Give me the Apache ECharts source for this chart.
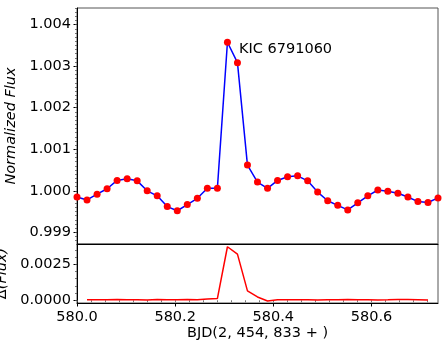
<!DOCTYPE html>
<html>
<head>
<meta charset="utf-8">
<script src="https://cdn.jsdelivr.net/npm/echarts@6/dist/echarts.min.js"></script>
<style>
  html, body { margin: 0; padding: 0; background: #fff; }
  #chart { width: 447px; height: 345px; }
</style>
</head>
<body>
<div id="chart"></div>
<script>
// time stamps (BJD - 2454833)
var bjd = [580.0000, 580.0204, 580.0409, 580.0613, 580.0817, 580.1022, 580.1226, 580.1430,
           580.1634, 580.1839, 580.2043, 580.2247, 580.2452, 580.2656, 580.2860, 580.3065,
           580.3269, 580.3473, 580.3677, 580.3882, 580.4086, 580.4290, 580.4495, 580.4699,
           580.4903, 580.5108, 580.5312, 580.5516, 580.5720, 580.5925, 580.6129, 580.6333,
           580.6538, 580.6742, 580.6946, 580.7151, 580.7355];
// normalized flux, one per time stamp
var flux = [0.99985, 0.99978, 0.99992, 1.00005, 1.00025, 1.00029, 1.00024, 1.00000,
            0.99988, 0.99962, 0.99952, 0.99967, 0.99982, 1.00006, 1.00006, 1.003575,
            1.003084, 1.00062, 1.00021, 1.00006, 1.00025, 1.00034, 1.00036, 1.00024,
            0.99997, 0.99976, 0.99965, 0.99954, 0.99971, 0.99988, 1.00002, 0.99999,
            0.99994, 0.99985, 0.99974, 0.99972, 0.99983];
// delta flux, starts at the 2nd time stamp and stops at the 2nd last
var deltaFlux = [0.00004, 0.00004, 0.00003, 0.00005, 0.00004, 0.00004, 0.00002, 0.00006,
                 0.00003, 0.00003, 0.00005, 0.00003, 0.00008, 0.00012, 0.00371, 0.00320,
                 0.00065, 0.00023, -0.00005, 0.00003, 0.00004, 0.00003, 0.00003, 0.00002,
                 0.00004, 0.00003, 0.00005, 0.00004, 0.00004, 0.00002, 0.00003, 0.00005,
                 0.00005, 0.00004, 0.00002];

var xTicks = [580.0, 580.2, 580.4, 580.6];
var fluxTicks = [0.999, 1.000, 1.001, 1.002, 1.003, 1.004];
var deltaTicks = [0.0000, 0.0025];

var xMin = 580.0, xMax = 580.7355;
var fluxMin = 0.99872, fluxMax = 1.0044;
var deltaMin = -0.00019, deltaMax = 0.0039;

// minor tick positions
var xMinor = [], fluxMinor = [], deltaMinor = [];
for (var i = 0; i * 0.2 / 7 + xMin <= xMax; i++) { xMinor.push(xMin + i * 0.2 / 7); }
for (var i = 0; 0.9987 + i * 0.0001 <= fluxMax; i++) { fluxMinor.push(0.9987 + i * 0.0001); }
for (var i = 0; i * 0.0005 <= deltaMax; i++) { deltaMinor.push(i * 0.0005); }

var fontFam = 'DejaVu Sans';

function minorAxis(gridIndex, min, max, values, pos) {
    return {
        type: 'value', gridIndex: gridIndex, min: min, max: max, position: pos,
        axisLine: { show: false },
        axisTick: { show: true, customValues: values, length: 2, lineStyle: { color: '#555', width: 0.8 } },
        axisLabel: { show: false },
        splitLine: { show: false }
    };
}

var fluxPts = [], deltaPts = [];
for (var i = 0; i < bjd.length; i++) { fluxPts.push([bjd[i], flux[i]]); }
for (var i = 0; i < deltaFlux.length; i++) { deltaPts.push([bjd[i + 1], deltaFlux[i]]); }

var myChart = echarts.init(document.getElementById('chart'), null, { renderer: 'canvas' });

var option = {
    animation: false,
    backgroundColor: '#fff',
    grid: [
        { left: 77, right: 9, top: 8, height: 236, show: true, borderColor: '#555', borderWidth: 1, outerBoundsMode: 'none' },
        { left: 77, right: 9, top: 244, height: 59, show: true, borderColor: '#555', borderWidth: 1, outerBoundsMode: 'none' }
    ],
    xAxis: [
        {
            type: 'value', gridIndex: 0, min: xMin, max: xMax,
            axisLine: { show: true, onZero: false, lineStyle: { color: '#000', width: 1 } },
            axisTick: { show: false }, axisLabel: { show: false }, splitLine: { show: false }
        },
        {
            type: 'value', gridIndex: 1, min: xMin, max: xMax,
            axisLine: { show: true, onZero: false, lineStyle: { color: '#000', width: 1 } },
            axisTick: { show: true, customValues: xTicks, length: 3.5, lineStyle: { color: '#000' } },
            axisLabel: {
                customValues: xTicks, margin: 7, fontFamily: fontFam, fontSize: 14.5, color: '#000',
                formatter: function (v) { return v.toFixed(1); }
            },
            splitLine: { show: false },
            name: 'BJD(2, 454, 833 + )', nameLocation: 'middle', nameGap: 21,
            nameTextStyle: { fontFamily: fontFam, fontSize: 14.5, color: '#000' }
        },
        minorAxis(1, xMin, xMax, xMinor, 'bottom')
    ],
    yAxis: [
        {
            type: 'value', gridIndex: 0, min: fluxMin, max: fluxMax,
            axisLine: { show: true, onZero: false, lineStyle: { color: '#000', width: 1 } },
            axisTick: { show: true, customValues: fluxTicks, length: 3.5, lineStyle: { color: '#000' } },
            axisLabel: {
                customValues: fluxTicks, margin: 6, fontFamily: fontFam, fontSize: 14.5, color: '#000',
                formatter: function (v) { return v.toFixed(3); }
            },
            splitLine: { show: false },
            name: 'Normalized Flux', nameLocation: 'middle', nameGap: 51,
            nameTextStyle: { fontFamily: fontFam, fontSize: 14.5, fontStyle: 'italic', color: '#000' }
        },
        minorAxis(0, fluxMin, fluxMax, fluxMinor, 'left'),
        {
            type: 'value', gridIndex: 1, min: deltaMin, max: deltaMax,
            axisLine: { show: true, onZero: false, lineStyle: { color: '#000', width: 1 } },
            axisTick: { show: true, customValues: deltaTicks, length: 3.5, lineStyle: { color: '#000' } },
            axisLabel: {
                customValues: deltaTicks, margin: 6, fontFamily: fontFam, fontSize: 14.5, color: '#000',
                formatter: function (v) { return v.toFixed(4); }
            },
            splitLine: { show: false },
            name: '{u|Δ}{i|(Flux)}', nameLocation: 'middle', nameGap: 56,
            nameTextStyle: {
                color: '#000',
                rich: {
                    u: { fontFamily: fontFam, fontSize: 14.5, color: '#000' },
                    i: { fontFamily: fontFam, fontSize: 14.5, fontStyle: 'italic', color: '#000' }
                }
            }
        },
        minorAxis(1, deltaMin, deltaMax, deltaMinor, 'left')
    ],
    graphic: [
        {
            type: 'text', left: 239, top: 42, z: 100,
            style: { text: 'KIC 6791060', fill: '#000', font: '14.5px "DejaVu Sans"' }
        }
    ],
    series: [
        {
            name: 'flux', type: 'line', xAxisIndex: 0, yAxisIndex: 0,
            data: fluxPts,
            showAllSymbol: true, symbol: 'circle', symbolSize: 7,
            lineStyle: { color: '#0000ff', width: 1.5 },
            itemStyle: { color: '#ff0000', borderWidth: 0 },
            emphasis: { disabled: true }
        },
        {
            name: 'delta', type: 'line', xAxisIndex: 1, yAxisIndex: 2,
            data: deltaPts,
            showSymbol: false,
            lineStyle: { color: '#ff0000', width: 1.5 },
            emphasis: { disabled: true }
        }
    ]
};

window.onresize = myChart.resize;
myChart.setOption(option);
</script>
</body>
</html>
